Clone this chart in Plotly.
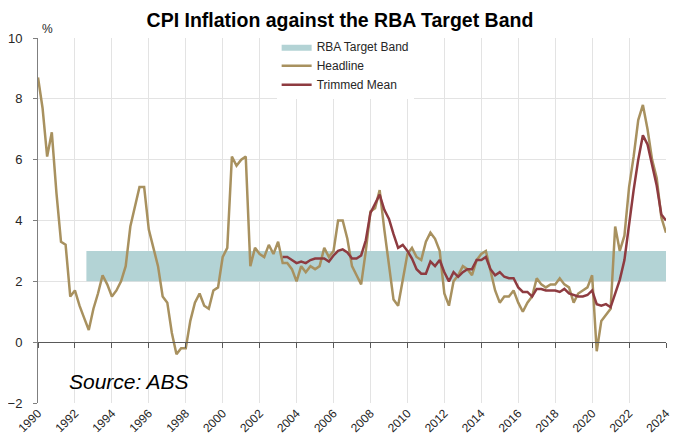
import pandas as pd
import plotly.graph_objects as go

# Quarterly observations, 1990 Q1 to 2024 Q1
QUARTERS = pd.date_range("1990-01-01", "2024-01-01", freq="QS")

HEADLINE = [
    8.7, 7.7, 6.1, 6.9,     # 1990
    4.9, 3.3, 3.2, 1.5,     # 1991
    1.7, 1.2, 0.8, 0.4,     # 1992
    1.1, 1.6, 2.2, 1.9,     # 1993
    1.5, 1.7, 2.0, 2.5,     # 1994
    3.8, 4.5, 5.1, 5.1,     # 1995
    3.7, 3.1, 2.5, 1.5,     # 1996
    1.3, 0.3, -0.4, -0.2,   # 1997
    -0.2, 0.7, 1.3, 1.6,    # 1998
    1.2, 1.1, 1.7, 1.8,     # 1999
    2.8, 3.1, 6.1, 5.8,     # 2000
    6.0, 6.1, 2.5, 3.1,     # 2001
    2.9, 2.8, 3.2, 2.9,     # 2002
    3.3, 2.6, 2.6, 2.4,     # 2003
    2.0, 2.5, 2.3, 2.5,     # 2004
    2.4, 2.5, 3.1, 2.8,     # 2005
    3.0, 4.0, 4.0, 3.4,     # 2006
    2.5, 2.2, 1.9, 3.0,     # 2007
    4.3, 4.4, 5.0, 3.7,     # 2008
    2.5, 1.4, 1.2, 2.1,     # 2009
    2.9, 3.1, 2.8, 2.7,     # 2010
    3.3, 3.6, 3.4, 3.0,     # 2011
    1.6, 1.2, 2.0, 2.2,     # 2012
    2.5, 2.4, 2.2, 2.7,     # 2013
    2.9, 3.0, 2.3, 1.7,     # 2014
    1.3, 1.5, 1.5, 1.7,     # 2015
    1.3, 1.0, 1.3, 1.5,     # 2016
    2.1, 1.9, 1.8, 1.9,     # 2017
    1.9, 2.1, 1.9, 1.8,     # 2018
    1.3, 1.6, 1.7, 1.8,     # 2019
    2.2, -0.3, 0.7, 0.9,    # 2020
    1.1, 3.8, 3.0, 3.5,     # 2021
    5.1, 6.1, 7.3, 7.8,     # 2022
    7.0, 6.0, 5.4, 4.1,     # 2023
    3.6,                    # 2024
]

# Trimmed mean starts in 2003 Q2
TRIMMED_START = 53
TRIMMED_MEAN = [
    2.8, 2.8, 2.7,            # 2003
    2.6, 2.65, 2.6, 2.7,      # 2004
    2.75, 2.75, 2.75, 2.65,   # 2005
    2.85, 3.0, 3.05, 2.95,    # 2006
    2.75, 2.75, 2.85, 3.35,   # 2007
    4.25, 4.55, 4.85, 4.35,   # 2008
    4.05, 3.55, 3.1, 3.2,     # 2009
    3.0, 2.75, 2.4, 2.25,     # 2010
    2.25, 2.65, 2.5, 2.7,     # 2011
    2.3, 2.0, 2.3, 2.15,      # 2012
    2.3, 2.4, 2.4, 2.7,       # 2013
    2.7, 2.8, 2.4, 2.2,       # 2014
    2.3, 2.15, 2.1, 2.1,      # 2015
    1.8, 1.65, 1.65, 1.5,     # 2016
    1.75, 1.75, 1.7, 1.7,     # 2017
    1.7, 1.65, 1.75, 1.6,     # 2018
    1.55, 1.5, 1.5, 1.55,     # 2019
    1.7, 1.25, 1.2, 1.25,     # 2020
    1.15, 1.6, 2.05, 2.7,     # 2021
    3.9, 5.0, 6.0, 6.8,       # 2022
    6.5, 5.85, 5.15, 4.2,     # 2023
    4.0,                      # 2024
]

BAND_X = ["1992-08-15", "2024-01-01"]
BAND_LOW = [2, 2]
BAND_HIGH = [3, 3]

YEAR_TICKS = [f"{year}-01-01" for year in range(1990, 2025, 2)]
X_RANGE = ["1990-01-01", "2024-01-01"]

BAND_COLOR = "#b3d3d5"
HEADLINE_COLOR = "#a8915f"
TRIMMED_COLOR = "#8e3b40"
GRID_COLOR = "#e3e3e3"
AXIS_COLOR = "#7f7f7f"
ZERO_COLOR = "#595959"
FONT = "Liberation Sans, Arial, sans-serif"

fig = go.Figure()
fig.add_trace(
    go.Scatter(
        x=BAND_X, y=BAND_LOW, mode="lines", line={"width": 0},
        showlegend=False, hoverinfo="skip",
    )
)
fig.add_trace(
    go.Scatter(
        x=BAND_X, y=BAND_HIGH, mode="lines", line={"width": 0},
        fill="tonexty", fillcolor=BAND_COLOR, name="RBA Target Band",
    )
)
fig.add_trace(
    go.Scatter(
        x=QUARTERS, y=HEADLINE, mode="lines",
        line={"color": HEADLINE_COLOR, "width": 2.5}, name="Headline",
    )
)
fig.add_trace(
    go.Scatter(
        x=QUARTERS[TRIMMED_START:], y=TRIMMED_MEAN, mode="lines",
        line={"color": TRIMMED_COLOR, "width": 2.5}, name="Trimmed Mean",
    )
)
# invisible carrier so the axis along y = 0 gets drawn
fig.add_trace(
    go.Scatter(
        x=BAND_X, y=BAND_LOW, xaxis="x2", mode="lines",
        line={"width": 0}, showlegend=False, hoverinfo="skip",
    )
)

# the page body adds an 8px margin, so the figure is sized to fit the window
fig.update_layout(
    width=672,
    height=435,
    margin={"l": 30, "r": 14, "t": 30, "b": 40, "autoexpand": False},
    paper_bgcolor="white",
    plot_bgcolor="white",
    font={"family": FONT, "size": 12, "color": "#262626"},
    title={
        "text": "<b>CPI Inflation against the RBA Target Band</b>",
        "x": 0.494, "xanchor": "center", "y": 0.971, "yanchor": "middle",
        "font": {"family": FONT, "size": 19.5, "color": "#000000"},
    },
    showlegend=True,
    legend={
        "x": 0.38, "y": 1.016, "xanchor": "left", "yanchor": "top",
        "bgcolor": "white", "font": {"size": 12, "color": "#262626"},
        "tracegroupgap": 0, "traceorder": "normal",
    },
    xaxis={
        "type": "date", "range": X_RANGE, "tickvals": YEAR_TICKS,
        "tickformat": "%Y", "tickangle": -45, "showgrid": True,
        "gridcolor": GRID_COLOR, "showline": False, "ticks": "",
        "zeroline": False, "tickfont": {"size": 12}, "automargin": False,
    },
    xaxis2={
        "type": "date", "range": X_RANGE, "tickvals": YEAR_TICKS,
        "overlaying": "x", "anchor": "free", "position": 2 / 12,
        "showticklabels": False, "showgrid": False, "showline": True,
        "linecolor": ZERO_COLOR, "linewidth": 1, "ticks": "outside",
        "ticklen": 5, "tickcolor": ZERO_COLOR, "side": "bottom",
        "automargin": False,
    },
    yaxis={
        "range": [-2, 10], "dtick": 2, "showgrid": True,
        "gridcolor": GRID_COLOR, "showline": True, "linecolor": AXIS_COLOR,
        "ticks": "outside", "ticklen": 4, "tickcolor": AXIS_COLOR,
        "zeroline": True, "zerolinecolor": ZERO_COLOR, "zerolinewidth": 1,
        "tickfont": {"size": 13}, "ticklabelstandoff": 8,
        "automargin": False,
    },
    annotations=[
        {
            "text": "%", "xref": "paper", "yref": "paper",
            "x": 0.0, "y": 1.0, "xshift": 2, "yshift": 0,
            "xanchor": "left", "yanchor": "bottom", "showarrow": False,
            "font": {"size": 12, "color": "#262626"},
        },
        {
            "text": "<i>Source: ABS</i>", "xref": "paper", "yref": "paper",
            "x": 0.046, "y": 0.059, "xanchor": "left", "yanchor": "middle",
            "showarrow": False, "font": {"size": 21, "color": "#000000"},
        },
    ],
)

fig.write_html("out.html")
